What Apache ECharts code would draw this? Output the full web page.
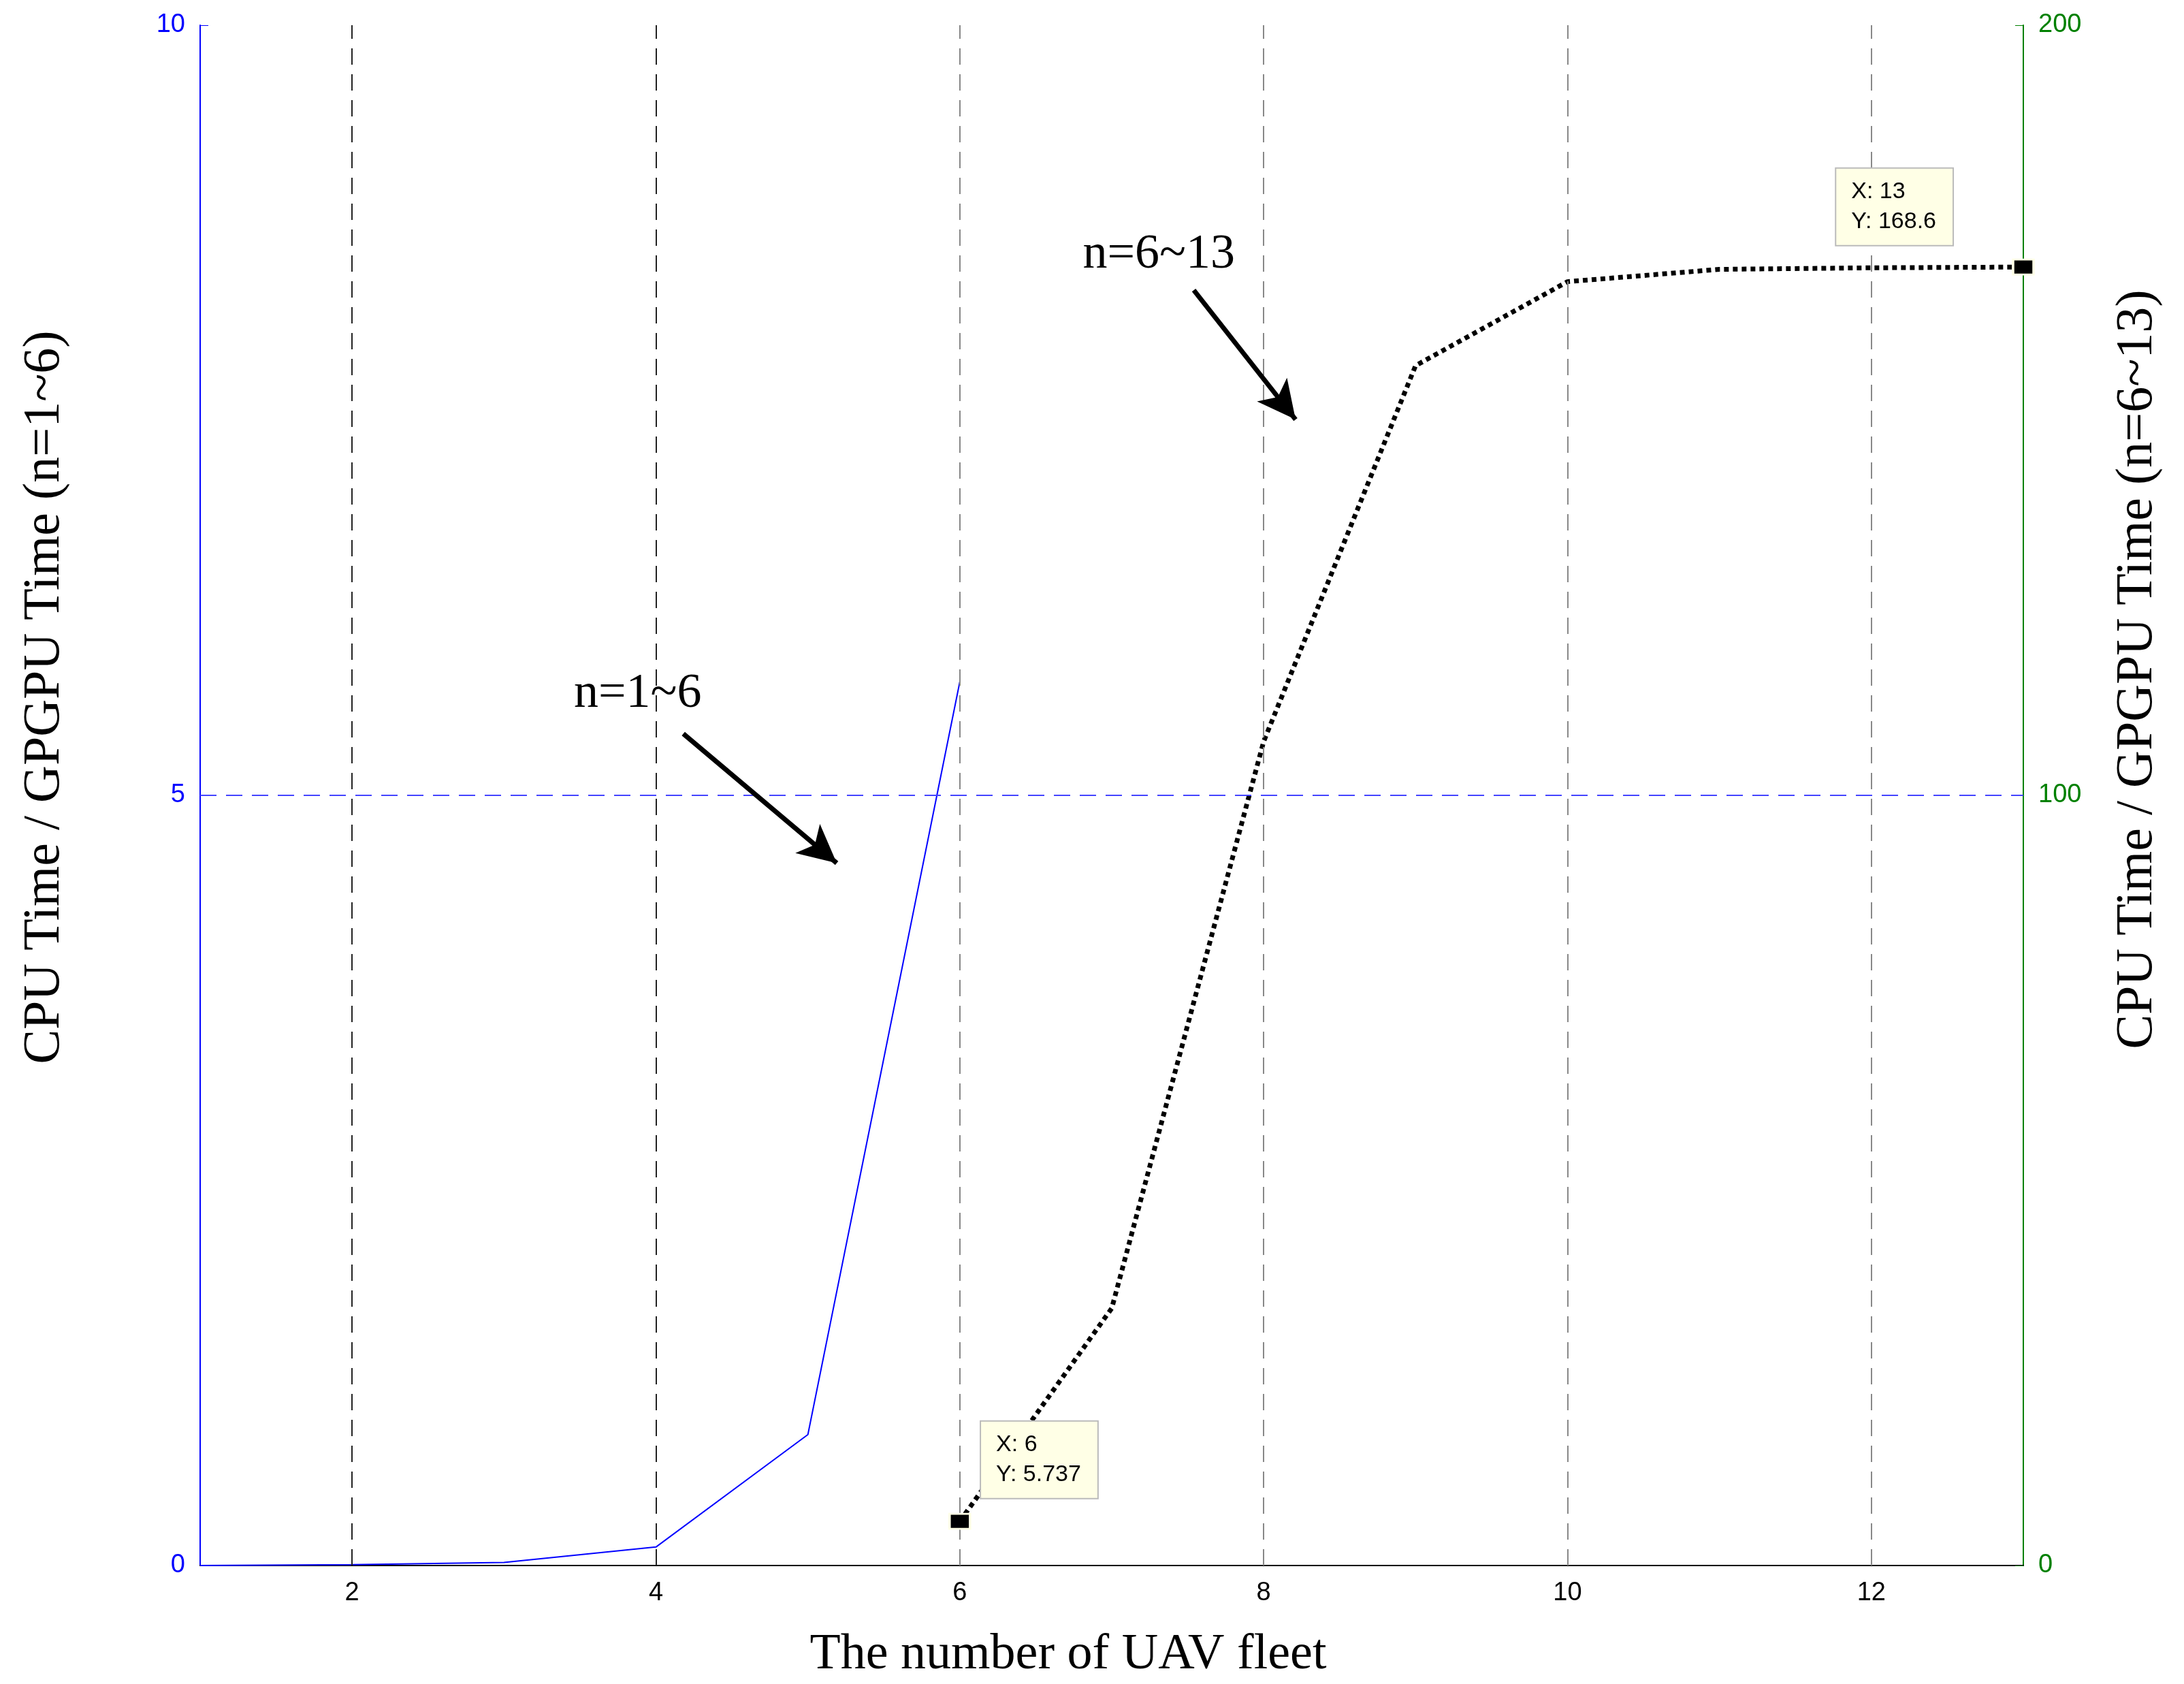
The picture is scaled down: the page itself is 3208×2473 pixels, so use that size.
<!DOCTYPE html>
<html style="height: 100%">
<head>
    <meta charset="utf-8">
</head>
<body style="height: 100%; margin: 0; background: #fff">
    <div id="container" style="width: 3208px; height: 2473px"></div>
    <script src="https://cdn.jsdelivr.net/npm/echarts@6.0.0/dist/echarts.min.js"></script>
    <script>
        // values
        const fleetSmall = [1, 2, 3, 4, 5, 6];
        const ratioSmall = [0.0, 0.005, 0.02, 0.12, 0.85, 5.737];
        const fleetLarge = [6, 7, 8, 9, 10, 11, 12, 13];
        const ratioLarge = [5.737, 33.4, 107, 155.8, 166.7, 168.3, 168.5, 168.6];
        const xGridValues = [2, 4, 6, 8, 10, 12];
        const serif = 'Liberation Serif';
        const sans = 'Liberation Sans';

        const dom = document.getElementById('container');
        const myChart = echarts.init(dom);

        const tipLabel = {
            show: true,
            color: '#000',
            fontFamily: sans,
            fontSize: 34,
            lineHeight: 44,
            backgroundColor: '#ffffe6',
            borderColor: '#bbb',
            borderWidth: 2,
            padding: [12, 24, 12, 22],
            align: 'left',
            verticalAlign: 'top'
        };

        const arrowLine = (from, to) => [
            { coord: from, symbol: 'none' },
            { coord: to, symbol: 'arrow', symbolSize: [42, 56] }
        ];

        const option = {
            animation: false,
            grid: { left: 294, right: 236, top: 37, bottom: 168 },
            xAxis: {
                type: 'value',
                min: 1,
                max: 13,
                splitLine: { show: false },
                axisLine: { show: true, onZero: false, lineStyle: { color: '#000', width: 2 } },
                axisTick: { show: true, customValues: xGridValues, inside: true, length: 12, lineStyle: { color: '#000' } },
                axisLabel: { customValues: xGridValues, color: '#000', fontFamily: sans, fontSize: 38, margin: 22 },
                name: 'The number of UAV fleet',
                nameLocation: 'middle',
                nameGap: 95,
                nameTextStyle: { color: '#000', fontFamily: serif, fontSize: 74, padding: [0, 128, 0, 0] }
            },
            yAxis: [{
                type: 'value',
                min: 0,
                max: 10,
                interval: 5,
                splitLine: { show: false },
                axisLine: { show: true, lineStyle: { color: '#0000ff', width: 2 } },
                axisTick: { show: true, inside: true, length: 12 },
                axisLabel: { color: '#0000ff', fontFamily: sans, fontSize: 38, margin: 22 },
                name: 'CPU Time / GPGPU Time (n=1~6)',
                nameLocation: 'middle',
                nameRotate: 90,
                nameGap: 190,
                nameTextStyle: { color: '#000', fontFamily: serif, fontSize: 76, padding: [0, 0, 0, 288] }
            }, {
                type: 'value',
                min: 0,
                max: 200,
                interval: 100,
                splitLine: { show: false },
                axisLine: { show: true, lineStyle: { color: '#008000', width: 2 } },
                axisTick: { show: true, inside: true, length: 12 },
                axisLabel: { color: '#008000', fontFamily: sans, fontSize: 38, margin: 22 },
                name: 'CPU Time / GPGPU Time (n=6~13)',
                nameLocation: 'middle',
                nameRotate: 90,
                nameGap: 130,
                nameTextStyle: { color: '#000', fontFamily: serif, fontSize: 76, padding: [0, 0, 0, 370] }
            }],
            series: [{
                name: 'n=1~6',
                type: 'line',
                yAxisIndex: 0,
                data: fleetSmall.map((x, i) => [x, ratioSmall[i]]),
                showSymbol: false,
                lineStyle: { color: '#0000ff', width: 2 },
                z: 3,
                markLine: {
                    silent: true,
                    symbol: 'none',
                    label: { show: false },
                    data: [
                        ...xGridValues.map(v => ({
                            xAxis: v,
                            lineStyle: { color: v <= 4 ? '#222' : '#888', type: [24, 14], width: 2 }
                        })),
                        { yAxis: 5, lineStyle: { color: '#4444ff', type: [24, 14], width: 2 } },
                        arrowLine([4.18, 5.40], [5.19, 4.56]),
                        arrowLine([7.54, 8.28], [8.21, 7.44])
                    ].map(d => Array.isArray(d)
                        ? d.map(p => ({ ...p, lineStyle: { color: '#000', width: 7, type: 'solid' } }))
                        : d)
                },
                markPoint: {
                    silent: true,
                    symbol: 'rect',
                    symbolSize: 1,
                    itemStyle: { color: 'transparent' },
                    data: [
                        { coord: [3.88, 5.66], label: { show: true, formatter: 'n=1~6', color: '#000', fontFamily: serif, fontSize: 72 } },
                        { coord: [7.31, 8.51], label: { show: true, formatter: 'n=6~13', color: '#000', fontFamily: serif, fontSize: 72 } }
                    ]
                }
            }, {
                name: 'n=6~13',
                type: 'line',
                yAxisIndex: 1,
                data: fleetLarge.map((x, i) => [x, ratioLarge[i]]),
                showSymbol: false,
                lineStyle: { color: '#000', width: 7, type: [7, 6] },
                z: 4,
                markPoint: {
                    silent: true,
                    symbol: 'rect',
                    symbolSize: [30, 22],
                    itemStyle: { color: '#000', borderColor: '#ffffe6', borderWidth: 3 },
                    data: [
                        { coord: [6, 5.737], label: { ...tipLabel, formatter: 'X: 6\nY: 5.737', position: [48, -134] } },
                        { coord: [13, 168.6], label: { ...tipLabel, formatter: 'X: 13\nY: 168.6', position: [-258, -132] } }
                    ]
                }
            }]
        };

        myChart.setOption(option);
    </script>
</body>
</html>
